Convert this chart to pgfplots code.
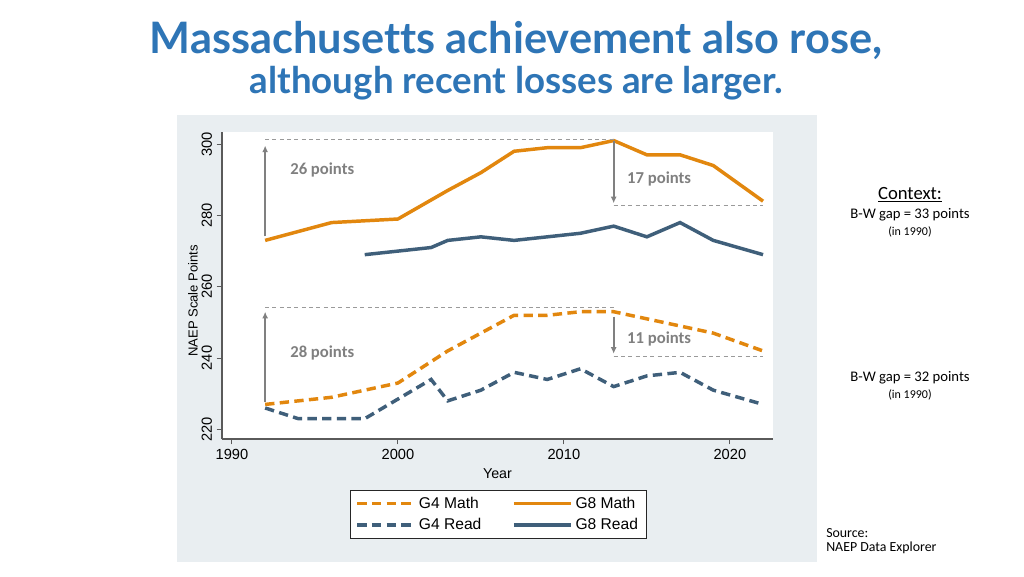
\documentclass[border=0pt]{standalone}
\usepackage{pgfplots}
\pgfplotsset{compat=1.18}
\usepackage{fontspec}
\setmainfont{Liberation Sans}
\newfontfamily\carlito{Carlito}
\newfontfamily\titlefont{Lato}[Ligatures=NoCommon]
\usetikzlibrary{arrows.meta}
\definecolor{morange}{RGB}{226,135,14}
\definecolor{mblue}{RGB}{63,95,122}
\definecolor{panel}{RGB}{233,238,241}
\definecolor{ttl}{RGB}{46,117,182}
\definecolor{agray}{RGB}{128,128,128}
\definecolor{axc}{RGB}{90,90,90}
\begin{document}
\begin{tikzpicture}
\begin{scope}[x=0.75pt,y=-0.75pt]
\fill[white] (0,0) rectangle (1024,576);
\fill[panel] (177,115) rectangle (817,562);
\node[anchor=base, text=ttl, font=\titlefont\bfseries\fontsize{32.5}{36}\selectfont] at (516,53) {Massachusetts achievement also rose,};
\node[anchor=base, text=ttl, font=\titlefont\bfseries\fontsize{27.5}{30}\selectfont] at (516.5,93) {although recent losses are larger.};
\node[font=\carlito\fontsize{14}{16}\selectfont] at (910,195) {\underline{Context:}};
\node[font=\carlito\fontsize{11}{13}\selectfont] at (910,215) {B-W gap = 33 points};
\node[font=\carlito\fontsize{9}{11}\selectfont] at (910,232) {(in 1990)};
\node[font=\carlito\fontsize{11}{13}\selectfont] at (910,378) {B-W gap = 32 points};
\node[font=\carlito\fontsize{9}{11}\selectfont] at (910,395) {(in 1990)};
\node[anchor=west, inner xsep=0pt, font=\carlito\fontsize{10.4}{12}\selectfont] at (826,533) {Source:};
\node[anchor=west, inner xsep=0pt, font=\carlito\fontsize{10.4}{12}\selectfont] at (826,548) {NAEP Data Explorer};
\end{scope}
\begin{axis}[
  at={(166.5pt,-329.25pt)}, anchor=south west,
  scale only axis, width=413.25pt, height=230.25pt,
  xmin=1989.4, xmax=2022.6, ymin=217.3, ymax=303.4,
  axis lines*=left,
  axis line style={axc, line width=0.8pt},
  xtick={1990,2000,2010,2020}, ytick={220,240,260,280,300},
  tick align=outside, major tick length=4pt,
  tick style={axc, line width=0.8pt},
  /pgf/number format/assume math mode=true,
  x tick label style={/pgf/number format/1000 sep={}},
  yticklabel style={rotate=90, anchor=south},
  axis background/.style={fill=white},
  font=\fontsize{11}{13}\selectfont,
  xlabel={Year}, ylabel={NAEP Scale Points},
  xlabel style={yshift=0pt, font=\fontsize{10.7}{12}\selectfont},
  ylabel style={at={(ticklabel cs:0.45)}, font=\fontsize{9.8}{11}\selectfont, yshift=-4pt},
  clip=false,
  legend columns=2,
  legend style={at={(0.501,-0.166)}, anchor=north, draw=black!85, fill=white,
    font=\fontsize{11.7}{13}\selectfont, row sep=2pt, inner xsep=4pt, inner ysep=3pt,
    /tikz/every even column/.append style={column sep=21pt}},
  legend cell align=left,
  legend image code/.code={\draw[#1] (0pt,0pt) -- (43pt,0pt);},
]
% G4 Math
\addplot[morange, line width=2.6pt, dash pattern=on 7pt off 4pt] coordinates {
(1992,227) (1996,229) (2000,233) (2003,242) (2005,247) (2007,252) (2009,252) (2011,253) (2013,253) (2015,251) (2017,249) (2019,247) (2022,242)};
\addlegendentry{G4 Math}
% G8 Math
\addplot[morange, line width=2.6pt] coordinates {
(1992,273) (1996,278) (2000,279) (2003,287) (2005,292) (2007,298) (2009,299) (2011,299) (2013,301) (2015,297) (2017,297) (2019,294) (2022,284)};
\addlegendentry{G8 Math}
% G4 Read
\addplot[mblue, line width=2.6pt, dash pattern=on 7pt off 4pt] coordinates {
(1992,226) (1994,223) (1998,223) (2002,234) (2003,228) (2005,231) (2007,236) (2009,234) (2011,237) (2013,232) (2015,235) (2017,236) (2019,231) (2022,227)};
\addlegendentry{G4 Read}
% G8 Read
\addplot[mblue, line width=2.6pt] coordinates {
(1998,269) (2002,271) (2003,273) (2005,274) (2007,273) (2009,274) (2011,275) (2013,277) (2015,274) (2017,278) (2019,273) (2022,269)};
\addlegendentry{G8 Read}
% reference lines
\addplot[forget plot, agray!80, line width=0.6pt, dash pattern=on 3pt off 2.5pt] coordinates {(1992,301.4) (2013,301.4)};
\addplot[forget plot, agray!80, line width=0.6pt, dash pattern=on 3pt off 2.5pt] coordinates {(2013,282.7) (2022,282.7)};
\addplot[forget plot, agray!80, line width=0.6pt, dash pattern=on 3pt off 2.5pt] coordinates {(1992,254.3) (2013,254.3)};
\addplot[forget plot, agray!80, line width=0.6pt, dash pattern=on 3pt off 2.5pt] coordinates {(2013,240.6) (2022,240.6)};
% arrows
\addplot[forget plot, agray, line width=1.5pt, -{Latex[length=5pt,width=4.5pt]}] coordinates {(1992,274.1) (1992,299.6)};
\addplot[forget plot, agray, line width=1.5pt, -{Latex[length=5pt,width=4.5pt]}] coordinates {(2013,300.8) (2013,283.4)};
\addplot[forget plot, agray, line width=1.5pt, -{Latex[length=5pt,width=4.5pt]}] coordinates {(1992,227.8) (1992,253.0)};
\addplot[forget plot, agray, line width=1.5pt, -{Latex[length=5pt,width=4.5pt]}] coordinates {(2013,251.6) (2013,241.2)};
\node[anchor=west, inner xsep=0pt, text=agray, font=\carlito\bfseries\fontsize{12.5}{14}\selectfont] at (axis cs:1993.5,292.7) {26 points};
\node[anchor=west, inner xsep=0pt, text=agray, font=\carlito\bfseries\fontsize{12.5}{14}\selectfont] at (axis cs:2013.8,290.2) {17 points};
\node[anchor=west, inner xsep=0pt, text=agray, font=\carlito\bfseries\fontsize{12.5}{14}\selectfont] at (axis cs:1993.5,241.5) {28 points};
\node[anchor=west, inner xsep=0pt, text=agray, font=\carlito\bfseries\fontsize{12.5}{14}\selectfont] at (axis cs:2013.8,245.4) {11 points};
\end{axis}
\end{tikzpicture}
\end{document}
